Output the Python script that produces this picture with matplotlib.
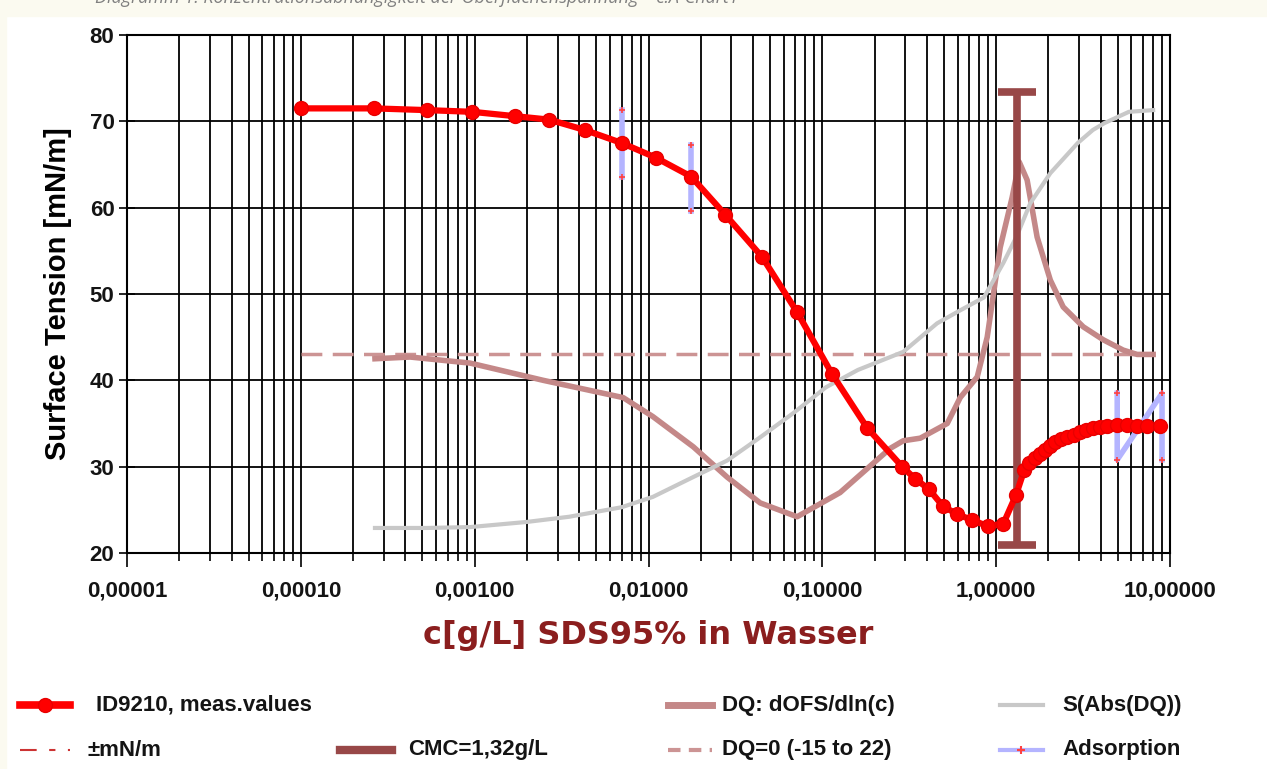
import matplotlib.pyplot as plt
from matplotlib.lines import Line2D
from matplotlib.patches import Rectangle
from matplotlib.ticker import LogLocator, FixedLocator, NullFormatter

# measured surface tension (red)
c_meas = [1.0e-4, 2.64e-4, 5.3e-4, 9.7e-4, 1.7e-3, 2.68e-3, 4.3e-3, 7.0e-3, 0.011, 0.0176,
          0.0276, 0.045, 0.0716, 0.114, 0.181, 0.288, 0.342, 0.41, 0.495, 0.597, 0.728,
          0.90, 1.10, 1.30, 1.45, 1.55, 1.675, 1.79, 1.91, 2.05, 2.19, 2.37, 2.56, 2.8,
          3.04, 3.3, 3.61, 3.95, 4.35, 4.97, 5.67, 6.48, 7.39, 8.79]
st_meas = [71.5, 71.5, 71.3, 71.1, 70.6, 70.2, 69.0, 67.5, 65.8, 63.6,
           59.2, 54.3, 47.9, 40.7, 34.5, 30.0, 28.6, 27.4, 25.4, 24.5, 23.8,
           23.1, 23.4, 26.7, 29.6, 30.4, 31.0, 31.5, 31.9, 32.4, 32.9, 33.2, 33.4, 33.7,
           34.0, 34.2, 34.5, 34.6, 34.7, 34.8, 34.8, 34.7, 34.7, 34.7]

# DQ: dOFS/dln(c)
c_dq = [2.67e-4, 4.25e-4, 9.4e-4, 2.48e-3, 7.15e-3, 0.0106, 0.0181, 0.0283, 0.0439, 0.0716,
        0.1265, 0.245, 0.292, 0.366, 0.523, 0.621, 0.778, 0.888, 1.055, 1.236, 1.357,
        1.507, 1.72, 2.05, 2.43, 3.17, 4.13, 5.38, 6.47, 8.0]
dq = [42.5, 42.7, 42.0, 40.0, 38.0, 35.8, 32.3, 28.8, 25.8, 24.2,
      27.0, 32.1, 33.0, 33.3, 35.0, 38.0, 40.4, 45.0, 55.4, 61.2, 65.3,
      63.2, 56.6, 51.6, 48.5, 46.2, 44.7, 43.5, 43.0, 43.0]

# S(Abs(DQ))
c_s = [2.67e-4, 5.3e-4, 9.4e-4, 2.0e-3, 3.5e-3, 7.0e-3, 0.0106, 0.0181, 0.0283, 0.0439,
       0.068, 0.105, 0.16, 0.292, 0.457, 0.62, 0.85, 1.1, 1.32, 1.57, 2.05, 2.95, 3.6,
       4.2, 5.8, 8.0]
s_abs = [22.9, 22.9, 23.0, 23.6, 24.2, 25.3, 26.5, 28.8, 30.7, 33.4,
         36.2, 39.2, 41.2, 43.3, 46.6, 48.1, 49.6, 53.6, 56.8, 60.5, 64.0, 67.5, 69.0,
         69.8, 71.1, 71.3]

# DQ = 0 reference line and CMC
dq0_c = [1.0e-4, 8.0]
dq0_y = [43.0, 43.0]
cmc = 1.32
cmc_low, cmc_high = 20.9, 73.4

# adsorption markers
ads_c1 = [7.0e-3, 7.0e-3]
ads_y1 = [71.3, 63.5]
ads_c2 = [0.0176, 0.0176]
ads_y2 = [67.3, 59.6]
ads_c3 = [4.97, 4.97, 9.0, 9.0]
ads_y3 = [38.5, 30.8, 38.5, 30.8]

major_c = [1e-5, 1e-4, 1e-3, 1e-2, 1e-1, 1, 10]
major_labels = ['0,00001', '0,00010', '0,00100', '0,01000', '0,10000', '1,00000', '10,00000']

red = '#ff0000'
rose = '#c48888'
gray = '#c8c8c8'
brown = '#984848'
blue = '#b4b4ff'
cream = '#fbfaf0'

fig = plt.figure(figsize=(12.67, 7.69), dpi=100)
fig.patches.append(Rectangle((0, 0), 6 / 1267, 1, transform=fig.transFigure, color=cream, zorder=0))
fig.patches.append(Rectangle((0, 1 - 16 / 769), 1, 16 / 769, transform=fig.transFigure, color=cream, zorder=0))
fig.text(95 / 1267, 1.003, 'Diagramm 1: Konzentrationsabhängigkeit der Oberflächenspannung – c.A-Chart1',
         fontsize=13, style='italic', color='#808080', family='Open Sans', va='center', ha='left')

ax = fig.add_axes([127 / 1267, 1 - 553 / 769, (1170 - 127) / 1267, (553 - 35) / 769])
ax.set_xscale('log')
ax.set_xlim(1e-5, 10)
ax.set_ylim(20, 80)

# curves
ax.plot(dq0_c, dq0_y, color='#cc9494', lw=2.5, dashes=(6, 3), zorder=3)
ax.plot(c_dq, dq, color=rose, lw=4, zorder=4)
ax.plot(c_s, s_abs, color=gray, lw=3, zorder=4)
ax.errorbar([cmc], [(cmc_low + cmc_high) / 2], yerr=[(cmc_high - cmc_low) / 2], fmt='none',
            ecolor=brown, elinewidth=5.5, capsize=14, capthick=5.5, zorder=5)
for xs, ys in [(ads_c1, ads_y1), (ads_c2, ads_y2), (ads_c3, ads_y3)]:
    ax.plot(xs, ys, color=blue, lw=4, zorder=6)
    ax.plot(xs, ys, ls='none', marker='+', color='#ff4040', ms=5, mew=1.2, zorder=6)
ax.plot(c_meas, st_meas, color=red, lw=4.5, marker='o', ms=10, mfc=red, mec='#e80000', zorder=7)

# grid and ticks
ax.xaxis.set_major_locator(FixedLocator(major_c))
ax.xaxis.set_minor_locator(LogLocator(base=10, subs=range(2, 10)))
ax.xaxis.set_minor_formatter(NullFormatter())
ax.set_xticklabels(major_labels)
ax.set_yticks(range(20, 81, 10))
ax.grid(which='both', axis='x', color='black', lw=1.3, zorder=1)
ax.grid(which='major', axis='y', color='black', lw=1.3, zorder=1)
ax.set_axisbelow(True)
ax.tick_params(axis='x', which='major', direction='out', length=10, width=1.2, pad=10)
ax.tick_params(axis='x', which='minor', direction='out', length=6, width=1.2)
ax.tick_params(axis='y', which='major', direction='inout', length=12, width=1.2, pad=3)
for lab in ax.get_xticklabels() + ax.get_yticklabels():
    lab.set_fontweight('bold')
    lab.set_fontsize(16)
    lab.set_family('Liberation Sans')
    lab.set_color('#141414')
for sp in ax.spines.values():
    sp.set_linewidth(1.5)

ax.set_ylabel('Surface Tension [mN/m]', fontsize=21, fontweight='bold', family='Liberation Sans', labelpad=13)
ax.set_xlabel('c[g/L] SDS95% in Wasser', fontsize=23, fontweight='bold', color='#8b1e1e',
              family='DejaVu Sans', labelpad=13)

# legend drawn by hand below the chart
def px(x, y):
    return x / 1267, 1 - y / 769

def legend_item(x0, x1, y, text, tx, **kw):
    xa, ya = px(x0, y)
    xb, _ = px(x1, y)
    fig.add_artist(Line2D([xa, xb], [ya, ya], transform=fig.transFigure, **kw))
    fig.text(*px(tx, y), text, fontsize=16, fontweight='bold', family='Liberation Sans',
             va='center', ha='left', color='#141414')

legend_item(20, 70, 705, 'ID9210, meas.values', 96, color=red, lw=5.5)
fig.add_artist(Line2D([px(45, 705)[0]], [px(45, 705)[1]], transform=fig.transFigure,
                      marker='o', ms=10, color=red, mec='#e80000'))
legend_item(20, 70, 750, '±mN/m', 88, color='#cc3333', lw=1.5, dashes=(8, 6, 3, 6))
legend_item(340, 392, 750, 'CMC=1,32g/L', 408, color=brown, lw=6)
legend_item(668, 712, 705, 'DQ: dOFS/dln(c)', 722, color=rose, lw=5)
legend_item(668, 712, 750, 'DQ=0 (-15 to 22)', 722, color='#cc9494', lw=3, dashes=(3, 2))
legend_item(1000, 1043, 705, 'S(Abs(DQ))', 1062, color=gray, lw=3)
legend_item(1000, 1043, 750, 'Adsorption', 1062, color=blue, lw=3)
fig.add_artist(Line2D([px(1021, 750)[0]], [px(1021, 750)[1]], transform=fig.transFigure,
                      marker='+', ms=6, color='#ff4040', mew=1.5))

plt.savefig('out.png', dpi=100)
